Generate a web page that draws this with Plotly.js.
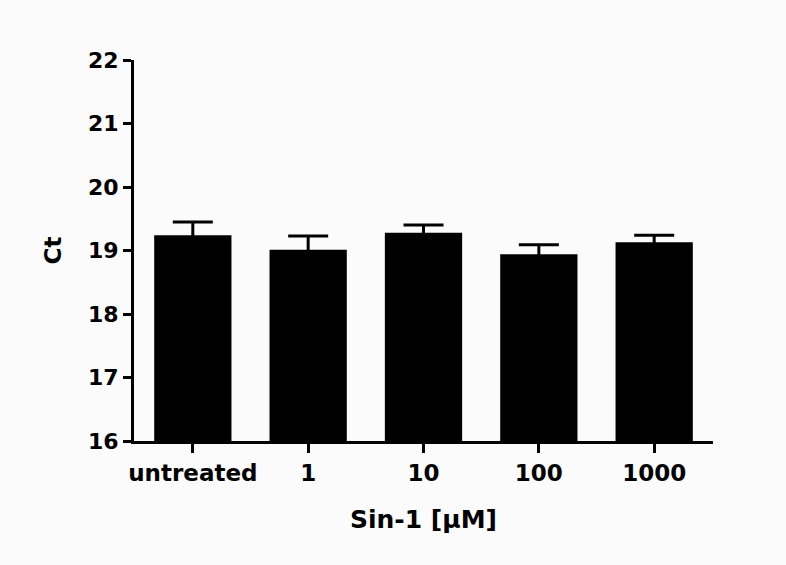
<!DOCTYPE html>
<html>
<head>
<meta charset="utf-8">
<script src="https://cdn.plot.ly/plotly-3.0.1.min.js"></script>
<style>html,body{margin:0;padding:0;background:#fbfbfb;}#chart{width:786px;height:565px;}</style>
</head>
<body>
<div id="chart"></div>
<script>
const categories = ["untreated", "1", "10", "100", "1000"];
const ctValues = [19.24, 19.01, 19.28, 18.94, 19.13];
const ctErrors = [0.21, 0.22, 0.12, 0.15, 0.11];
const yTicks = [16, 17, 18, 19, 20, 21, 22];

const trace = {
  type: "bar",
  x: categories,
  y: ctValues,
  marker: {color: "#000", line: {width: 0}},
  error_y: {type: "data", array: ctErrors, symmetric: true, visible: true, color: "#000", thickness: 3, width: 20},
  width: 0.67,
  hoverinfo: "none"
};

const layout = {
  width: 786, height: 565,
  paper_bgcolor: "#fbfbfb", plot_bgcolor: "#fbfbfb",
  margin: {l: 134, r: 73, t: 60, b: 124},
  showlegend: false,
  font: {family: "DejaVu Sans", color: "#000", size: 22},
  xaxis: {
    type: "category",
    range: [-0.51, 4.51],
    showline: true, linecolor: "#000", linewidth: 3,
    ticks: "outside", ticklen: 9, tickwidth: 3, tickcolor: "#000",
    showgrid: false, zeroline: false,
    tickfont: {family: "DejaVu Sans", size: 23, color: "#000", weight: "bold"},
    title: {text: "<b>Sin-1 [µM]</b>", font: {family: "DejaVu Sans", size: 25, color: "#000"}, standoff: 26}
  },
  yaxis: {
    range: [16, 22],
    tickvals: yTicks,
    ticktext: yTicks.map(String),
    showline: true, linecolor: "#000", linewidth: 3,
    ticks: "outside", ticklen: 8, tickwidth: 3, tickcolor: "#000",
    showgrid: false, zeroline: false,
    tickfont: {family: "DejaVu Sans", size: 22, color: "#000", weight: "bold"},
    title: {text: "<b>Ct</b>", font: {family: "DejaVu Sans", size: 23, color: "#000"}, standoff: 20}
  }
};

Plotly.newPlot("chart", [trace], layout, {staticPlot: true, displayModeBar: false});
</script>
</body>
</html>
